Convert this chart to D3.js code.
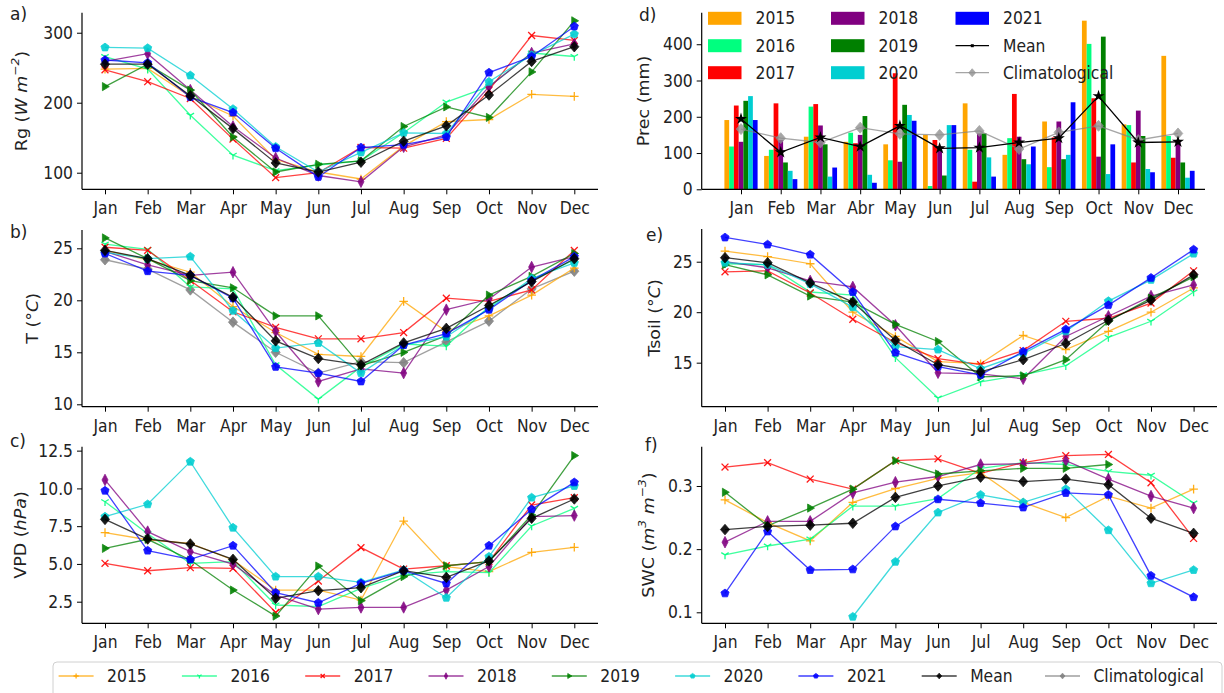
<!DOCTYPE html>
<html><head><meta charset="utf-8">
<script src="https://cdn.jsdelivr.net/npm/d3@7"></script>
<style>body{margin:0;background:#fff;} svg{display:block;} text{font-family:"DejaVu Sans",sans-serif;fill:#222;}</style>
</head><body><svg id="c" width="1224" height="693"></svg>
<script>
// ---------------- DATA ----------------
const months = ["Jan","Feb","Mar","Apr","May","Jun","Jul","Aug","Sep","Oct","Nov","Dec"];
const monthsPrec = ["Jan","Feb","Mar","Abr","May","Jun","Jul","Aug","Sep","Oct","Nov","Dec"];
const seriesNames = ["2015","2016","2017","2018","2019","2020","2021","Mean","Climatological"];
const yearNames = ["2015","2016","2017","2018","2019","2020","2021"];

// Rg (W m-2): rows 2015..2021, Mean
const rgValues = [
  [248,249,209,181,119,101,91,138,173,176,212,209],
  [266,248,182,125,103,111,117,157,201,223,271,266],
  [247,230,206,148,93,100,136,135,149,218,296,289],
  [259,270,218,166,121,96,87,137,154,223,271,284],
  [223,255,218,151,101,112,117,166,194,179,244,317],
  [279,278,239,191,137,101,129,157,156,230,268,298],
  [261,257,208,186,135,94,136,140,151,243,266,309],
  [255,255,210,163,114,101,115,145,167,211,259,280]
];
// T (°C): rows 2015..2021, Mean, Climatological
const tValues = [
  [24.8,23.9,22.7,19.4,16.9,14.8,14.6,19.9,17.0,18.5,20.5,23.1],
  [25.4,24.9,21.3,21.1,13.8,10.5,13.6,15.8,15.6,19.4,21.9,23.9],
  [25.1,24.8,21.9,18.9,17.4,16.3,16.3,16.9,20.2,19.9,21.0,24.8],
  [24.7,23.4,22.4,22.7,17.0,12.2,13.4,13.0,19.1,20.1,23.2,24.2],
  [26.0,24.0,21.9,21.2,18.5,18.5,13.7,15.0,16.6,20.5,22.3,24.5],
  [24.6,24.0,24.2,19.0,15.4,15.9,13.0,15.7,16.5,19.2,22.1,23.6],
  [24.5,22.8,22.4,20.2,13.6,13.0,12.2,15.7,16.8,19.1,21.9,24.2],
  [24.8,24.0,22.4,20.3,16.1,14.4,13.8,15.9,17.3,19.5,21.8,24.0],
  [23.9,23.0,21.0,17.9,15.0,13.0,14.1,14.0,16.0,18.0,21.1,22.8]
];
// VPD (hPa)
const vpdValues = [
  [7.07,6.6,6.36,5.26,3.27,3.27,2.61,7.84,4.82,4.49,5.77,6.10],
  [9.12,7.0,5.04,5.15,2.28,2.17,3.38,4.27,4.49,4.42,7.51,8.68],
  [5.04,4.55,4.75,4.71,1.79,3.87,6.08,4.66,4.88,5.15,8.9,9.39],
  [10.56,7.14,5.81,4.99,2.94,2.01,2.12,2.12,3.27,4.83,8.13,8.2],
  [6.03,6.63,5.26,3.27,1.55,4.86,2.57,4.16,4.88,5.15,8.24,12.17],
  [8.13,8.95,11.77,7.40,4.16,4.16,3.78,4.6,2.76,5.48,9.39,10.16],
  [9.85,5.88,5.30,6.21,3.10,2.43,3.71,4.55,3.71,6.21,8.61,10.4],
  [7.95,6.65,6.32,5.30,2.72,3.23,3.43,4.55,4.11,5.2,8.02,9.30]
];
// Prec (mm): bars 2015..2021
const precValues = [
  [191,92,145,131,124,150,237,95,187,465,179,368],
  [118,109,228,156,80,9,109,141,61,401,177,147],
  [231,237,235,127,320,136,21,263,143,251,74,87],
  [131,136,176,150,76,118,154,145,187,90,217,136],
  [244,74,124,202,233,38,154,83,83,421,147,74],
  [257,51,35,40,205,177,88,69,95,42,56,32],
  [191,28,60,18,189,177,35,118,240,124,47,51]
];
const precMean = [194,102,143,118,175,113,115,129,141,257,129,131];
const precClim = [166,141,129,170,153,150,161,111,157,175,136,154];
// Tsoil (°C)
const tsoilValues = [
  [26.05,25.5,24.8,20.0,17.6,15.1,14.9,17.7,16.3,18.1,20.0,22.4],
  [24.8,24.7,22.0,21.7,15.5,11.5,13.1,13.8,14.7,17.5,19.1,22.0],
  [24.0,24.1,21.9,19.3,17.0,15.4,14.8,16.2,19.1,19.4,20.9,24.1],
  [25.0,24.4,23.1,22.5,18.7,14.0,13.9,13.4,17.6,19.6,21.6,22.7],
  [24.7,23.7,21.6,21.0,18.8,17.1,13.6,13.7,15.3,19.1,21.4,23.5],
  [24.9,24.7,22.8,20.5,16.6,16.3,14.4,15.9,18.1,21.1,23.2,25.8],
  [27.4,26.7,25.7,22.0,16.0,14.6,13.8,16.1,18.3,20.7,23.4,26.2],
  [25.4,24.9,22.9,21.0,17.2,14.8,14.1,15.3,16.9,19.2,21.2,23.7]
];
// SWC (m3 m-3)
const swcValues = [
  [0.278,0.242,0.213,0.274,0.296,0.312,0.321,0.274,0.250,0.284,0.265,0.295],
  [0.191,0.205,0.216,0.268,0.268,0.280,0.328,0.337,0.334,0.323,0.317,0.273],
  [0.330,0.337,0.311,0.295,0.340,0.343,0.320,0.337,0.348,0.350,0.305,0.217],
  [0.211,0.244,0.244,0.289,0.306,0.315,0.334,0.335,0.340,0.311,0.284,0.265],
  [0.290,0.237,0.265,0.295,0.340,0.319,0.324,0.328,0.328,0.334,null,null],
  [null,null,null,0.093,0.180,0.258,0.286,0.274,0.295,0.230,0.146,0.167],
  [0.130,0.228,0.167,0.168,0.236,0.279,0.273,0.266,0.289,0.286,0.158,0.124],
  [0.231,0.236,0.238,0.241,0.282,0.300,0.314,0.307,0.311,0.302,0.249,0.225]
];
const rgTicks = [100,200,300];
const tTicks = [10,15,20,25];
const vpdTicks = [2.5,5.0,7.5,10.0,12.5];
const precTicks = [0,100,200,300,400];
const tsoilTicks = [15,20,25];
const swcTicks = [0.1,0.2,0.3];

// ---------------- STYLE ----------------
const colors = ["#FFA500","#00FF7F","#FF0000","#800080","#008000","#00CED1","#0000FF","#000000","#808080"];
const markers = ["plus","tri","x","thin","right","pent","pent","diamond","diamond"];
const FS = 17.5, SX = 0.89;

const svg = d3.select("#c");

function markerPath(type, r){
  const p = d3.path();
  if(type==="plus"){ p.moveTo(-r,0);p.lineTo(r,0);p.moveTo(0,-r);p.lineTo(0,r); }
  else if(type==="tri"){ p.moveTo(0,0);p.lineTo(0,r);p.moveTo(0,0);p.lineTo(-r*0.866,-r*0.5);p.moveTo(0,0);p.lineTo(r*0.866,-r*0.5); }
  else if(type==="x"){ const q=r*0.8; p.moveTo(-q,-q);p.lineTo(q,q);p.moveTo(-q,q);p.lineTo(q,-q); }
  else if(type==="thin"){ p.moveTo(0,-r*1.25);p.lineTo(r*0.65,0);p.lineTo(0,r*1.25);p.lineTo(-r*0.65,0);p.closePath(); }
  else if(type==="right"){ p.moveTo(r,0);p.lineTo(-r*0.6,-r*0.95);p.lineTo(-r*0.6,r*0.95);p.closePath(); }
  else if(type==="pent"){ for(let k=0;k<5;k++){const a=-Math.PI/2+k*2*Math.PI/5; const px=r*Math.cos(a), py=r*Math.sin(a); if(k===0)p.moveTo(px,py); else p.lineTo(px,py);} p.closePath(); }
  else if(type==="diamond"){ p.moveTo(0,-r*1.1);p.lineTo(r*0.95,0);p.lineTo(0,r*1.1);p.lineTo(-r*0.95,0);p.closePath(); }
  return p.toString();
}
const strokeOnly = t => (t==="plus"||t==="tri"||t==="x");

function drawMarker(g, type, color, x, y, r, op){
  g.append("path").attr("d", markerPath(type, r)).attr("transform",`translate(${x},${y})`)
    .attr("fill", strokeOnly(type)?"none":color).attr("stroke", color)
    .attr("stroke-width", strokeOnly(type)?1.3:0.8).attr("opacity", op);
}

function squish(sel){
  sel.each(function(){ const t=d3.select(this); const x=+(t.attr("x")||0);
    t.attr("transform",`translate(${x},0) scale(${SX},1) translate(${-x},0)`); });
}

function axes(g, p, x, y, ticks, fmt){
  g.append("line").attr("x1",p.xl).attr("x2",p.xl).attr("y1",p.yt).attr("y2",p.yb).attr("stroke","#000").attr("stroke-width",1.2);
  g.append("line").attr("x1",p.xl).attr("x2",p.xr).attr("y1",p.yb).attr("y2",p.yb).attr("stroke","#000").attr("stroke-width",1.2);
  const ya = g.append("g").attr("transform",`translate(${p.xl},0)`)
    .call(d3.axisLeft(y).tickValues(ticks).tickFormat(fmt).tickSize(5).tickPadding(4).tickSizeOuter(0));
  ya.select(".domain").remove();
  const xa = g.append("g").attr("transform",`translate(0,${p.yb})`)
    .call(d3.axisBottom(x).tickSize(5).tickPadding(7.4).tickSizeOuter(0));
  xa.select(".domain").remove();
  [ya,xa].forEach(a=>{ a.selectAll("line").attr("stroke","#000").attr("stroke-width",1);
    a.selectAll("text").attr("font-size",FS).attr("font-family","DejaVu Sans").attr("fill","#222"); squish(a.selectAll("text")); });
}

function ylabel(g, cx, cy, parts){
  const t = g.append("g").attr("transform",`translate(${cx},${cy}) rotate(-90)`).append("text")
    .attr("text-anchor","middle").attr("dominant-baseline","central").attr("font-size",FS)
    .attr("transform",`scale(1,${SX})`);
  parts.forEach(pt=>{
    const s = t.append("tspan").text(pt.t);
    if(pt.i) s.attr("font-style","italic");
    if(pt.sup) s.attr("font-size",FS*0.7).attr("dy",-7);
    if(pt.down) s.attr("dy",7);
  });
}
function panelTag(x,y,txt){
  svg.append("text").attr("x",x).attr("y",y).attr("font-family","Liberation Serif, serif").attr("font-size",17).attr("fill","#000").text(txt);
}

function linePanel(p, rows, ticks, fmt, label){
  const g = svg.append("g");
  const x = d3.scalePoint().domain(months).range([p.xJan,p.xDec]);
  const y = d3.scaleLinear().domain(p.dom).range([p.yb,p.yt]);
  axes(g,p,x,y,ticks,fmt);
  ylabel(g,p.lx,(p.yt+p.yb)/2,label);
  const order = rows.length>8 ? [8,0,1,2,3,4,5,6,7] : [0,1,2,3,4,5,6,7];
  const line = d3.line().defined(d=>d!=null).x((d,i)=>x(months[i])).y(d=>y(d));
  order.forEach(si=>{
    const vals = rows[si]; const col = colors[si];
    const sg = g.append("g");
    sg.append("path").datum(vals).attr("d", line).attr("fill","none").attr("stroke",col)
      .attr("stroke-width",1.3).attr("opacity",0.75);
    const r = (markers[si]==="diamond")?4.8:(markers[si]==="thin"?4.6:4.3);
    vals.forEach((v,i)=>{ if(v!=null) drawMarker(sg, markers[si], col, x(months[i]), y(v), r, 0.9); });
  });
}

// ---------------- PANELS ----------------
const L = {xl:82, xr:598, xJan:105, xDec:574.3};
const R = {xl:701.7, xr:1217, xJan:725, xDec:1193.6};

linePanel({...L, yt:12.7, yb:189.3, dom:[76.3,328.6], lx:21}, rgValues, rgTicks, d3.format("d"),
  [{t:"Rg ("},{t:"W m",i:true},{t:"−2",i:true,sup:true},{t:")",down:true}]);
linePanel({...L, yt:230, yb:406.7, dom:[9.77,26.76], lx:32}, tValues, tTicks, d3.format("d"),
  [{t:"T (°"},{t:"C",i:true},{t:")"}]);
linePanel({...L, yt:446.7, yb:623.3, dom:[1.07,12.76], lx:20}, vpdValues, vpdTicks, d3.format(".1f"),
  [{t:"VPD ("},{t:"hPa",i:true},{t:")"}]);
linePanel({...R, yt:229, yb:406.7, dom:[10.64,28.24], lx:654}, tsoilValues, tsoilTicks, d3.format("d"),
  [{t:"Tsoil (°"},{t:"C",i:true},{t:")"}]);
linePanel({...R, yt:446.7, yb:623.3, dom:[0.0826,0.3622], lx:648}, swcValues, swcTicks, d3.format(".1f"),
  [{t:"SWC ("},{t:"m",i:true},{t:"3",i:true,sup:true},{t:" m",i:true,down:true},{t:"−3",i:true,sup:true},{t:")",down:true}]);

// Panel d: precipitation bars
(function(){
  const p = {xl:701.7, xr:1205, yt:12.7, yb:189.3};
  const g = svg.append("g");
  const x = d3.scalePoint().domain(monthsPrec).range([741,1178]);
  const xin = d3.scaleBand().domain(yearNames).range([-16.6,16.6]).padding(0);
  const y = d3.scaleLinear().domain([0,487]).range([p.yb,p.yt]);
  precValues.forEach((vals,k)=>{
    g.append("g").selectAll("rect").data(vals).join("rect")
      .attr("x",(d,i)=>x(monthsPrec[i])+xin(yearNames[k])).attr("width",xin.bandwidth())
      .attr("y",d=>y(d)).attr("height",d=>y(0)-y(d)).attr("fill",colors[k]);
  });
  axes(g,p,x,y,precTicks,d3.format("d"));
  ylabel(g,643,(p.yt+p.yb)/2,[{t:"Prec (mm)"}]);
  const line = d3.line().x((d,i)=>x(monthsPrec[i])).y(d=>y(d));
  const cg = g.append("g");
  cg.append("path").datum(precClim).attr("d",line).attr("fill","none").attr("stroke","#808080").attr("stroke-width",1.3).attr("opacity",0.7);
  precClim.forEach((v,i)=>drawMarker(cg,"diamond","#909090",x(monthsPrec[i]),y(v),5,0.8));
  const mg = g.append("g");
  mg.append("path").datum(precMean).attr("d",line).attr("fill","none").attr("stroke","#000").attr("stroke-width",1.3);
  const star = d3.symbol().type(d3.symbolStar).size(45);
  precMean.forEach((v,i)=>mg.append("path").attr("d",star()).attr("transform",`translate(${x(monthsPrec[i])},${y(v)})`).attr("fill","#000"));
  // legend inside panel d
  const cols = [708, 831, 955.5], rows = [18.3, 45.7, 72.7];
  seriesNames.forEach((nm,i)=>{
    const c = Math.floor(i/3), r = i%3, lx = cols[c], ly = rows[r];
    if(i<7){
      g.append("rect").attr("x",lx).attr("y",ly-6.5).attr("width",33.5).attr("height",13).attr("fill",colors[i]);
    } else {
      g.append("line").attr("x1",lx).attr("x2",lx+33.5).attr("y1",ly).attr("y2",ly).attr("stroke",colors[i]).attr("stroke-width",1.3).attr("opacity",i===8?0.7:1);
      if(i===7) g.append("rect").attr("x",lx+15.3).attr("y",ly-1.5).attr("width",3).attr("height",3).attr("fill","#000");
      else drawMarker(g,"diamond","#909090",lx+16.7,ly,3.6,0.8);
    }
    const t = g.append("text").attr("x",lx+47.5).attr("y",ly).attr("dominant-baseline","central").attr("font-size",FS).text(nm);
    squish(t);
  });
})();

// Panel tags
panelTag(10,20,"a)"); panelTag(10,238,"b)"); panelTag(10,447,"c)");
panelTag(639,21,"d)"); panelTag(646,241,"e)"); panelTag(645,451,"f)");

// Bottom legend
(function(){
  const g = svg.append("g");
  g.append("rect").attr("x",53).attr("y",662).attr("width",1169).attr("height",45).attr("rx",4)
    .attr("fill","#fff").attr("stroke","#d0d0d0").attr("stroke-width",1);
  const ly = 676;
  seriesNames.forEach((nm,i)=>{
    const hx = 58.6 + 123.3*i;
    g.append("line").attr("x1",hx).attr("x2",hx+35).attr("y1",ly).attr("y2",ly).attr("stroke",colors[i]).attr("stroke-width",1.3).attr("opacity",0.75);
    drawMarker(g, markers[i], colors[i], hx+17.5, ly, 2.6, 0.9);
    const t = g.append("text").attr("x",hx+48.5).attr("y",ly).attr("dominant-baseline","central").attr("font-size",FS).text(nm);
    squish(t);
  });
})();
</script></body></html>
